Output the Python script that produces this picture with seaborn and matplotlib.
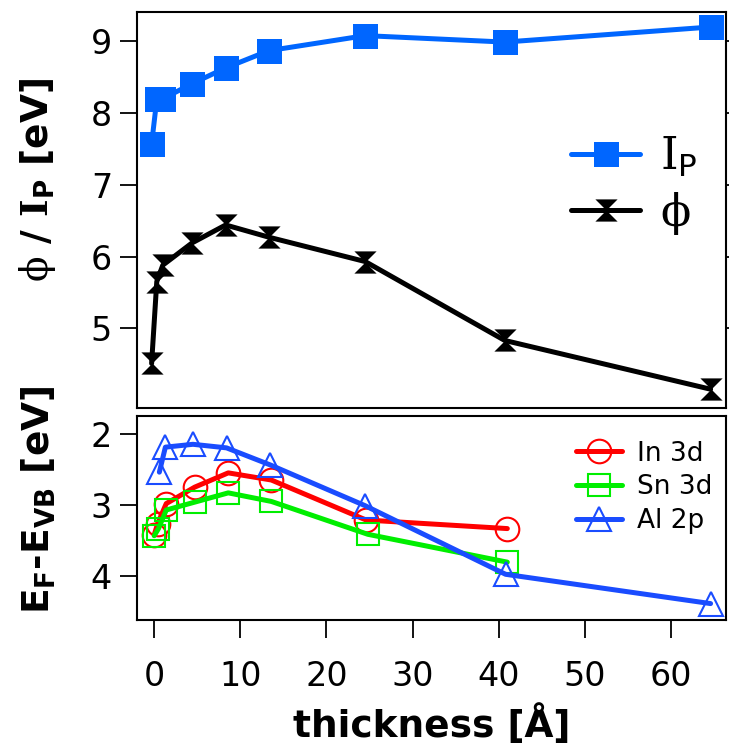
import numpy as np
import pandas as pd
import matplotlib
matplotlib.use("Agg")
import matplotlib.pyplot as plt
from matplotlib.path import Path
import seaborn as sns

# ---------------- data ----------------
thick_top = [-0.3, 0.3, 1.0, 4.4, 8.3, 13.3, 24.5, 40.7, 64.6]
ip_vals = [7.57, 8.19, 8.20, 8.41, 8.63, 8.87, 9.08, 8.99, 9.20]
phi_vals = [4.51, 5.65, 5.88, 6.19, 6.44, 6.27, 5.93, 4.83, 4.15]

thick_in = [0.0, 0.4, 1.4, 4.7, 8.6, 13.6, 24.6, 41.0]
in3d_vals = [3.42, 3.26, 2.98, 2.75, 2.55, 2.65, 3.21, 3.33]
thick_sn = [0.0, 0.5, 1.4, 4.7, 8.6, 13.6, 24.8, 41.0]
sn3d_vals = [3.43, 3.33, 3.07, 2.96, 2.83, 2.95, 3.41, 3.80]
thick_al = [0.6, 1.3, 4.5, 8.4, 13.5, 24.5, 40.8, 64.6]
al2p_vals = [2.54, 2.19, 2.15, 2.20, 2.44, 3.01, 3.97, 4.38]

x_ticks = [0, 10, 20, 30, 40, 50, 60]
top_yticks = [5, 6, 7, 8, 9]
bot_yticks = [2, 3, 4]

# ---------------- style ----------------
sns.set_theme(style="ticks")
plt.rcParams["font.family"] = ["DejaVu Sans"]
plt.rcParams["text.color"] = "black"
plt.rcParams["axes.labelcolor"] = "black"
plt.rcParams["xtick.color"] = "black"
plt.rcParams["ytick.color"] = "black"
plt.rcParams["mathtext.fontset"] = "custom"
plt.rcParams["mathtext.rm"] = "DejaVu Sans"
plt.rcParams["mathtext.bf"] = "DejaVu Sans:bold"
plt.rcParams["mathtext.sf"] = "DejaVu Sans"
plt.rcParams["mathtext.tt"] = "DejaVu Serif"
plt.rcParams["mathtext.cal"] = "DejaVu Serif:bold"

hourglass = Path([(-1, 1), (1, 1), (0, 0), (1, -1), (-1, -1), (0, 0), (-1, 1)],
                 [Path.MOVETO, Path.LINETO, Path.LINETO, Path.LINETO,
                  Path.LINETO, Path.LINETO, Path.CLOSEPOLY])

fig = plt.figure(figsize=(7.29, 7.47), dpi=100)
ax1 = fig.add_axes([0.188, 0.454, 0.808, 0.530])
ax2 = fig.add_axes([0.188, 0.170, 0.808, 0.273])

df_top = pd.DataFrame({"thickness": thick_top, "IP": ip_vals, "phi": phi_vals})

LW = 3.6
sns.lineplot(data=df_top, x="thickness", y="IP", ax=ax1, sort=False, estimator=None,
             color="#0066ff", linewidth=LW, marker="s", markersize=18, mec="#0066ff", mew=0,
             label=r"$\mathtt{I}_{\mathrm{P}}$")
sns.lineplot(data=df_top, x="thickness", y="phi", ax=ax1, sort=False, estimator=None,
             color="black", linewidth=LW, marker=hourglass, markersize=16, mec="black", mew=0,
             label=r"$\mathtt{\phi}$")

df_in = pd.DataFrame({"thickness": thick_in, "E": in3d_vals})
df_sn = pd.DataFrame({"thickness": thick_sn, "E": sn3d_vals})
df_al = pd.DataFrame({"thickness": thick_al, "E": al2p_vals})

sns.lineplot(data=df_in, x="thickness", y="E", ax=ax2, sort=False, estimator=None,
             color="#ff0000", linewidth=LW, marker="o", markersize=17, mfc="none",
             mec="#ff0000", mew=1.5, label="In 3d")
sns.lineplot(data=df_sn, x="thickness", y="E", ax=ax2, sort=False, estimator=None,
             color="#00ee00", linewidth=LW, marker="s", markersize=16, mfc="none",
             mec="#00ee00", mew=1.5, label="Sn 3d")
sns.lineplot(data=df_al, x="thickness", y="E", ax=ax2, sort=False, estimator=None,
             color="#1a4cff", linewidth=LW, marker="^", markersize=17, mfc="none",
             mec="#1a4cff", mew=1.5, label="Al 2p")

# ---------------- axes ----------------
for ax in (ax1, ax2):
    ax.set_xlim(-1.99, 66.4)
    for s in ax.spines.values():
        s.set_visible(True)
        s.set_linewidth(1.5)
        s.set_color("black")

ax1.set_ylim(3.89, 9.41)
ax1.set_yticks(top_yticks)
ax1.set_xticks([])
ax1.tick_params(axis="y", direction="out", length=12, width=1.3, labelsize=24,
                right=True, left=True, pad=6)
ax1.set_xlabel("")
ax1.set_ylabel(r"$\mathtt{\phi}$ / $\mathcal{I}_{\mathbf{P}}$ [eV]", fontsize=27,
               fontweight="bold")
ax1.yaxis.set_label_coords(-0.134, 0.576)

ax2.set_ylim(4.61, 1.755)
ax2.set_yticks(bot_yticks)
ax2.set_xticks(x_ticks)
ax2.tick_params(axis="y", direction="out", length=12, width=1.3, labelsize=24, pad=6)
ax2.tick_params(axis="x", direction="out", length=13, width=1.3, labelsize=24, pad=16)
ax2.set_xlabel("thickness [Å]", fontsize=27, fontweight="bold", labelpad=8)
ax2.set_ylabel(r"$\mathbf{E}_{\mathbf{F}}$-$\mathbf{E}_{\mathbf{VB}}$ [eV]", fontsize=27,
               fontweight="bold")
ax2.yaxis.set_label_coords(-0.134, 0.589)

leg1 = ax1.legend(loc="upper left", bbox_to_anchor=(0.737, 0.69), frameon=False,
                  fontsize=32, handlelength=1.55, handletextpad=0.45, labelspacing=0.25,
                  borderaxespad=0, borderpad=0)
leg2 = ax2.legend(loc="upper left", bbox_to_anchor=(0.745, 0.88), frameon=False,
                  fontsize=19, handlelength=1.75, handletextpad=0.55, labelspacing=0.3,
                  borderaxespad=0, borderpad=0)

fig.savefig("out.png", dpi=100)
